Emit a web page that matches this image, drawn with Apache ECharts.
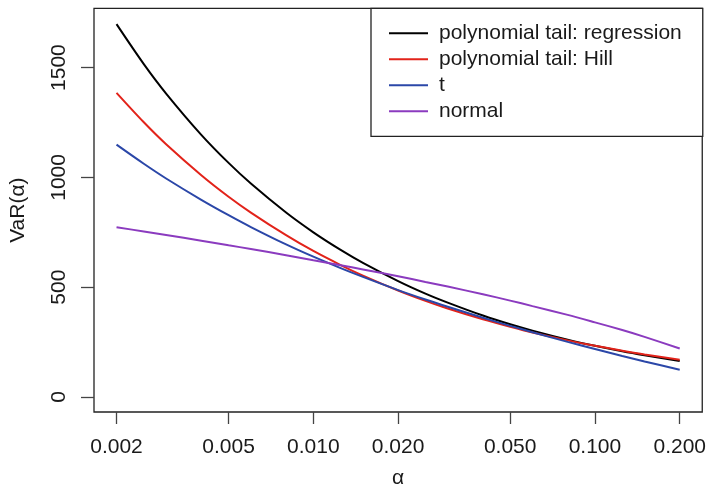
<!DOCTYPE html>
<html>
<head>
<meta charset="utf-8">
<script src="https://cdn.jsdelivr.net/npm/echarts@6/dist/echarts.min.js"></script>
<style>
html,body{margin:0;padding:0;background:#fff;}
#chart{width:709px;height:494px;}
</style>
</head>
<body>
<div id="chart"></div>
<script>
// alpha levels (x)
const alpha = [0.002, 0.0025, 0.003, 0.004, 0.005, 0.006, 0.008, 0.01, 0.0125, 0.015, 0.02,
               0.025, 0.03, 0.04, 0.05, 0.06, 0.08, 0.1, 0.125, 0.15, 0.2];
// VaR values
const polyRegression = [1698, 1516, 1382, 1194, 1066, 972, 840, 750, 670, 611, 528,
                        471, 430, 371, 331, 302, 261, 233, 208, 190, 164];
const polyHill = [1385, 1251, 1151, 1010, 912, 840, 737, 665, 601, 553, 485,
                  438, 403, 354, 320, 294, 258, 233, 211, 194, 170];
const tDist = [1149, 1062, 995, 898, 828, 774, 695, 639, 587, 547, 487,
               444, 411, 361, 324, 295, 251, 219, 187, 162, 124];
const normal = [773, 754, 738, 712, 691, 674, 646, 623, 600, 581, 550,
                524, 503, 468, 439, 414, 374, 340, 305, 274, 221];

const seriesNames = ['polynomial tail: regression', 'polynomial tail: Hill', 't', 'normal'];
const xTickValues = [0.002, 0.005, 0.01, 0.02, 0.05, 0.1, 0.2];
const xTickLabels = ['0.002', '0.005', '0.010', '0.020', '0.050', '0.100', '0.200'];
const yTickValues = [0, 500, 1000, 1500];
const yTickLabels = ['0', '500', '1000', '1500'];

const colors = ['#000000', '#E2231A', '#2B47A8', '#8B3BBF'];
const font = 'Liberation Sans, Arial, Helvetica, sans-serif';
const xMin = 0.002 * Math.pow(10, -0.08), xMax = 0.2 * Math.pow(10, 0.08);
const logTicks = xTickValues.map(v => Math.log10(v));

const seriesValues = [polyRegression, polyHill, tDist, normal];

const chart = echarts.init(document.getElementById('chart'), null, {renderer: 'canvas'});
chart.setOption({
  animation: false,
  backgroundColor: '#ffffff',
  grid: {left: 94, right: 5.5, top: 8.3, bottom: 81.3, show: true,
         borderColor: '#222', borderWidth: 1.3, backgroundColor: 'transparent'},
  legend: {
    data: seriesNames,
    orient: 'vertical',
    left: 371, top: 8.3,
    padding: [12, 21, 12, 18],
    itemGap: 0,
    itemWidth: 39, itemHeight: 2,
    icon: 'rect',
    borderColor: '#222', borderWidth: 1.3,
    backgroundColor: '#fff',
    textStyle: {fontFamily: font, fontSize: 21, color: '#1a1a1a', lineHeight: 26, padding: [0, 0, 0, 6]}
  },
  xAxis: [
    {type: 'log', logBase: 10, min: xMin, max: xMax, show: false},
    {type: 'value', min: Math.log10(xMin), max: Math.log10(xMax), position: 'bottom',
     axisLine: {show: false}, splitLine: {show: false},
     axisTick: {show: true, customValues: logTicks, length: 12, lineStyle: {color: '#444', width: 1.3}},
     axisLabel: {show: true, customValues: logTicks, margin: 25, fontFamily: font, fontSize: 21, color: '#1a1a1a',
       formatter: function (v) {
         const i = logTicks.findIndex(t => Math.abs(t - v) < 1e-9);
         return i >= 0 ? xTickLabels[i] : '';
       }},
     name: 'α', nameLocation: 'middle', nameGap: 56,
     nameTextStyle: {fontFamily: font, fontSize: 21, color: '#1a1a1a'}}
  ],
  yAxis: {
    type: 'value', min: -68.2, max: 1770,
    axisLine: {show: false}, splitLine: {show: false},
    axisTick: {show: true, customValues: yTickValues, length: 13, lineStyle: {color: '#444', width: 1.3}},
    axisLabel: {show: true, customValues: yTickValues, rotate: 90, margin: 24, fontFamily: font, fontSize: 21, color: '#1a1a1a',
      formatter: function (v) {
        const i = yTickValues.indexOf(v);
        return i >= 0 ? yTickLabels[i] : '';
      }},
    name: 'VaR(α)', nameLocation: 'middle', nameGap: 65, nameRotate: 90,
    nameTextStyle: {fontFamily: font, fontSize: 21, color: '#1a1a1a'}
  },
  series: seriesNames.map((name, k) => ({
    name: name, type: 'line', xAxisIndex: 0, yAxisIndex: 0,
    data: alpha.map((a, i) => [a, seriesValues[k][i]]),
    showSymbol: false, smooth: 0.3,
    lineStyle: {color: colors[k], width: 2},
    itemStyle: {color: colors[k]}
  }))
});
</script>
</body>
</html>
